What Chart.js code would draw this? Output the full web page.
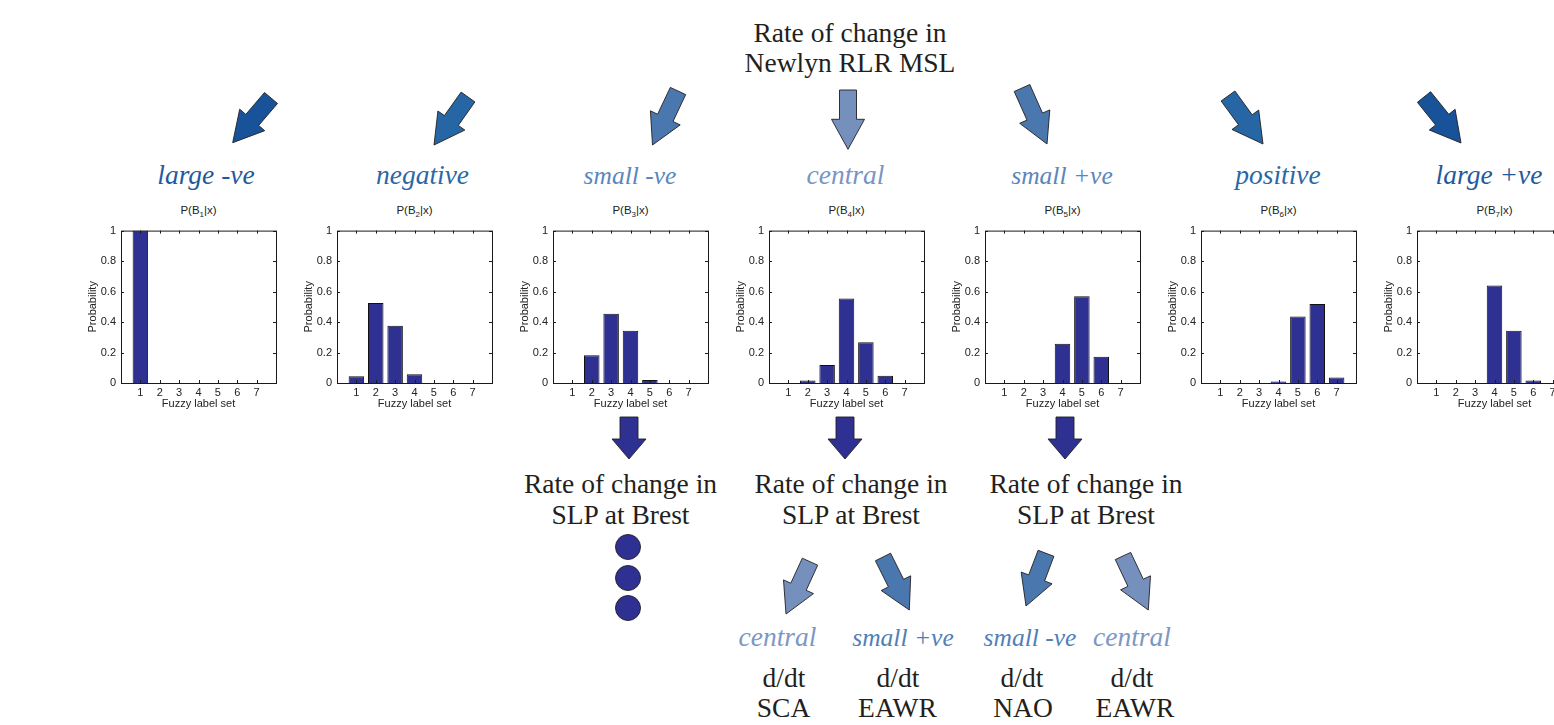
<!DOCTYPE html>
<html lang="en">
<head>
<meta charset="UTF-8">
<title>Newlyn RLR MSL - fuzzy label probabilities</title>
<script src="https://cdn.jsdelivr.net/npm/chart.js"></script>
<style>
  html, body { margin: 0; padding: 0; background: #fff; }
  body { width: 1554px; height: 725px; overflow: hidden; position: relative; }
  #art { position: absolute; left: 0; top: 0; }
  .panel { position: absolute; }
</style>
</head>
<body>
<svg id="art" width="1554" height="725" xmlns="http://www.w3.org/2000/svg"></svg>
<script>
// fuzzy label set on the x axis, and P(Bk|x) for each MSL class
const fuzzySet = [1, 2, 3, 4, 5, 6, 7];
const pB1 = [1.0, 0, 0, 0, 0, 0, 0];
const pB2 = [0.045, 0.525, 0.376, 0.058, 0, 0, 0];
const pB3 = [0, 0.182, 0.455, 0.343, 0.02, 0, 0];
const pB4 = [0, 0.016, 0.118, 0.554, 0.268, 0.047, 0];
const pB5 = [0, 0, 0, 0.258, 0.57, 0.173, 0];
const pB6 = [0, 0, 0, 0.01, 0.436, 0.519, 0.036];
const pB7 = [0, 0, 0, 0.64, 0.343, 0.017, 0];
const yTicks = [0, 0.2, 0.4, 0.6, 0.8, 1];

const mslClasses = ['large -ve', 'negative', 'small -ve', 'central', 'small +ve', 'positive', 'large +ve'];
const panels = [pB1, pB2, pB3, pB4, pB5, pB6, pB7];

// layout of the small bar panels
const PLOT_LEFT0 = 121, PLOT_STEP = 216, PLOT_TOP = 227;
const PLOT_W = 155, PLOT_H = 156;
const Y_AXIS_W = 45, X_AXIS_H = 30, PAD_TOP = 8, PAD_RIGHT = 6;

const axisFont = { family: '"Liberation Sans", Arial, sans-serif', size: 11 };
const ink = '#222';

const boxFrame = {
  id: 'boxFrame',
  afterDatasetsDraw(chart) {
    const { ctx, chartArea: a, scales: { x, y } } = chart;
    ctx.save();
    ctx.strokeStyle = '#1a1a1a';
    ctx.lineWidth = 1;
    ctx.strokeRect(a.left + 0.5, a.top + 0.5, a.right - a.left, a.bottom - a.top);
    ctx.beginPath();
    fuzzySet.forEach(v => {
      const px = Math.round(x.getPixelForValue(v)) + 0.5;
      ctx.moveTo(px, a.bottom); ctx.lineTo(px, a.bottom - 3);
      ctx.moveTo(px, a.top); ctx.lineTo(px, a.top + 3);
    });
    yTicks.forEach(v => {
      const py = Math.round(y.getPixelForValue(v)) + 0.5;
      ctx.moveTo(a.left, py); ctx.lineTo(a.left + 3, py);
      ctx.moveTo(a.right, py); ctx.lineTo(a.right - 3, py);
    });
    ctx.stroke();
    ctx.restore();
  }
};

function makePanel(i, values) {
  const cv = document.createElement('canvas');
  cv.width = Y_AXIS_W + PLOT_W + PAD_RIGHT;
  cv.height = PAD_TOP + PLOT_H + X_AXIS_H;
  cv.className = 'panel';
  cv.style.left = (PLOT_LEFT0 + i * PLOT_STEP - Y_AXIS_W) + 'px';
  cv.style.top = (PLOT_TOP - PAD_TOP) + 'px';
  document.body.appendChild(cv);

  new Chart(cv, {
    type: 'bar',
    data: {
      datasets: [{
        data: fuzzySet.map((x, k) => ({ x: x, y: values[k] })),
        backgroundColor: '#2e3192',
        borderColor: '#111',
        borderWidth: 1,
        barPercentage: 0.8,
        categoryPercentage: 1
      }]
    },
    options: {
      responsive: false,
      animation: false,
      devicePixelRatio: 1,
      layout: { padding: { top: PAD_TOP, right: PAD_RIGHT, bottom: 0, left: 0 } },
      plugins: { legend: { display: false }, tooltip: { enabled: false } },
      scales: {
        x: {
          type: 'linear', min: 0, max: 8, offset: false,
          afterBuildTicks: s => { s.ticks = fuzzySet.map(v => ({ value: v })); },
          afterFit: s => { s.height = X_AXIS_H; },
          grid: { display: false, drawTicks: false },
          border: { display: false },
          ticks: { autoSkip: false, maxRotation: 0, padding: 3, font: axisFont, color: ink,
                   callback: v => String(v) },
          title: { display: true, text: 'Fuzzy label set', font: axisFont, color: ink,
                   padding: { top: 0, bottom: 2 } }
        },
        y: {
          min: 0, max: 1,
          afterBuildTicks: s => { s.ticks = yTicks.map(v => ({ value: v })); },
          afterFit: s => { s.width = Y_AXIS_W; },
          grid: { display: false, drawTicks: false },
          border: { display: false },
          ticks: { padding: 5, font: axisFont, color: ink, callback: v => String(+v.toFixed(1)) },
          title: { display: true, text: 'Probability', font: axisFont, color: ink,
                   padding: { top: 10, bottom: 0 } }
        }
      }
    },
    plugins: [boxFrame]
  });
}

panels.forEach((vals, i) => makePanel(i, vals));

// --- diagram decorations (arrows, labels) drawn in svg ---
const svg = document.getElementById('art');
const NS = 'http://www.w3.org/2000/svg';
const SERIF = '"Liberation Serif", "Times New Roman", serif';

function el(name, attrs, parent) {
  const e = document.createElementNS(NS, name);
  for (const k in attrs) e.setAttribute(k, attrs[k]);
  (parent || svg).appendChild(e);
  return e;
}

function text(x, y, str, size, color, italic) {
  const t = el('text', {
    x: x, y: y, 'text-anchor': 'middle', 'font-family': SERIF,
    'font-size': size, fill: color, 'font-style': italic ? 'italic' : 'normal'
  });
  t.textContent = str;
  return t;
}

// block arrow from tail centre (tx,ty) to tip (px,py)
function arrow(tx, ty, px, py, fill, sw, hw, hl) {
  sw = sw || 8.5; hw = hw || 16.5; hl = hl || 30;
  const dx = px - tx, dy = py - ty, len = Math.hypot(dx, dy);
  const ux = dx / len, uy = dy / len, nx = -uy, ny = ux;
  const bx = px - ux * hl, by = py - uy * hl;
  const pts = [
    [tx + nx * sw, ty + ny * sw], [bx + nx * sw, by + ny * sw], [bx + nx * hw, by + ny * hw],
    [px, py],
    [bx - nx * hw, by - ny * hw], [bx - nx * sw, by - ny * sw], [tx - nx * sw, ty - ny * sw]
  ];
  el('polygon', {
    points: pts.map(p => p[0].toFixed(1) + ',' + p[1].toFixed(1)).join(' '),
    fill: fill, stroke: '#231f20', 'stroke-width': 0.9, 'stroke-linejoin': 'miter'
  });
}

const blueDark = '#18539a', blueMid = '#2766a4', blueSoft = '#4a78ae', bluePale = '#7690bd';
const navy = '#2e3192', black = '#231f20';

text(850, 42, 'Rate of change in', 27.5, black);
text(850, 72, 'Newlyn RLR MSL', 27.5, black);

arrow(271, 98, 232.7, 142.7, blueDark);
arrow(468, 97, 434, 145, blueMid);
arrow(678, 91, 652.5, 145, blueSoft);
arrow(848, 90, 848, 149.3, bluePale);
arrow(1022, 88, 1047, 144, blueSoft);
arrow(1228, 96, 1263, 144, blueMid);
arrow(1424, 97, 1461, 143, blueDark);

const classColors = ['#1f5a9e', '#2a68a6', '#5a86bd', '#7a95c3', '#5a86bd', '#2a68a6', '#1f5a9e'];
const classSizes = [27.5, 27.5, 25.5, 27.5, 25.5, 27.5, 27.5];
const classX = [206, 422.5, 630, 845.5, 1062, 1278, 1489];
mslClasses.forEach((c, i) => text(classX[i], 184, c, classSizes[i], classColors[i], true));

// panel titles P(Bk|x)
panels.forEach((v, i) => {
  const cx = PLOT_LEFT0 + i * PLOT_STEP + PLOT_W / 2;
  const t = el('text', { x: cx, y: 214, 'text-anchor': 'middle',
    'font-family': '"Liberation Sans", Arial, sans-serif', 'font-size': 11.5, fill: ink });
  el('tspan', {}, t).textContent = 'P(B';
  el('tspan', { dy: 3, 'font-size': 8 }, t).textContent = String(i + 1);
  el('tspan', { dy: -3 }, t).textContent = '|x)';
});

// second level: SLP at Brest
[629, 845, 1065].forEach(x => arrow(x, 417, x, 459, navy, 9, 17, 20));
[620.5, 851, 1086].forEach(x => {
  text(x, 493, 'Rate of change in', 27.5, black);
  text(x, 524, 'SLP at Brest', 27.5, black);
});
[547, 578, 608].forEach(y => el('circle', { cx: 628, cy: y, r: 12.5, fill: navy, stroke: black, 'stroke-width': 0.9 }));

arrow(810, 561.7, 786, 614, bluePale);
arrow(883, 557, 909.3, 610, blueSoft);
arrow(1046, 553.3, 1026, 606, blueSoft);
arrow(1123, 556, 1148.3, 610, bluePale);

text(777.5, 646, 'central', 27.5, '#7d97c5', true);
text(903, 646, 'small +ve', 25.5, '#5080b8', true);
text(1030, 646, 'small -ve', 25.5, '#5080b8', true);
text(1132, 646, 'central', 27.5, '#7d97c5', true);

[[784, 'SCA', 783.5], [898, 'EAWR', 897.5], [1022, 'NAO', 1023], [1132, 'EAWR', 1135]].forEach(d => {
  text(d[0], 687, 'd/dt', 27.5, black);
  text(d[2], 717, d[1], 27.5, black);
});
</script>
</body>
</html>
